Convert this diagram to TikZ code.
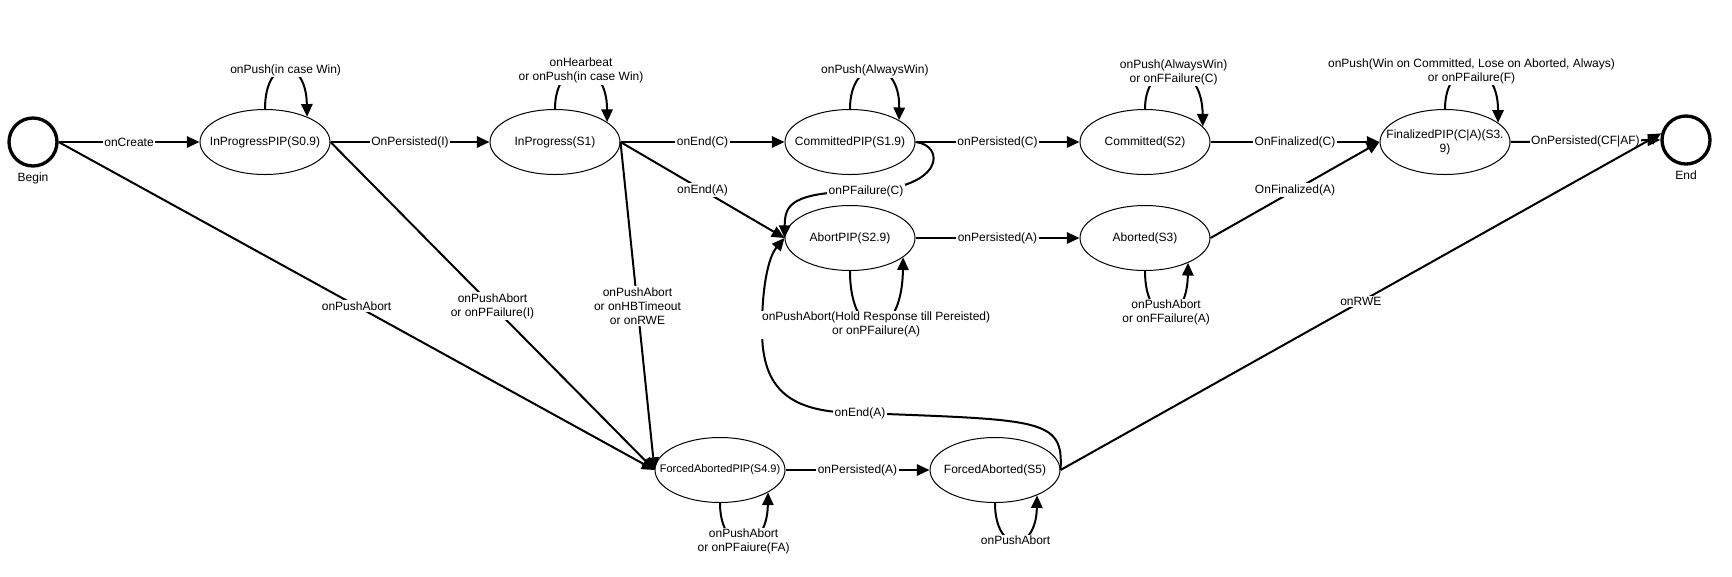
\documentclass[tikz,border=0pt]{standalone}
\usepackage{fontspec}
\setmainfont{Liberation Sans}
\usetikzlibrary{arrows.meta,positioning,shapes.geometric}

\begin{document}
\begin{tikzpicture}[x=0.75pt, y=-0.75pt, font=\fontsize{9}{10.5}\selectfont,
  state/.style={draw, ellipse, line width=0.75pt, minimum width=97.5pt, minimum height=48.75pt, inner xsep=-14pt, inner ysep=0pt, align=center},
  term/.style={draw, circle, line width=2.5pt, minimum size=36pt},
  trans/.style={-{Triangle[length=9.5pt,width=8.5pt]}, line width=1.5pt},
  lbl/.style={fill=white, inner sep=1pt, align=center}]
\useasboundingbox (0,0) rectangle (1732,576);
% start and end
\node[term] (begin) at (33,142) {};
\node[below=0pt of begin] (beginLbl) {Begin};
\node[term] (endSt) at (1686,140) {};
\node[below=0pt of endSt] (endLbl) {End};
% states, top row
\node[state] (ipPip) at (265,142) {InProgressPIP(S0.9)};
\node[state] (inProg) at (555,142) {InProgress(S1)};
\node[state] (comPip) at (850,142) {CommittedPIP(S1.9)};
\node[state] (committed) at (1145,142) {Committed(S2)};
\node[state] (finPip) at (1445,142) {FinalizedPIP(C|A)(S3.\\9)};
% middle row
\node[state] (abPip) at (850,238) {AbortPIP(S2.9)};
\node[state] (aborted) at (1145,238) {Aborted(S3)};
% bottom row
\node[state, font=\fontsize{8.25}{10}\selectfont] (faPip) at (720,470) {ForcedAbortedPIP(S4.9)};
\node[state] (fAborted) at (995,470) {ForcedAborted(S5)};

% main flow
\draw[trans] (begin.east) -- node[lbl] {onCreate} (ipPip.west);
\draw[trans] (ipPip.east) -- node[lbl] {OnPersisted(I)} (inProg.west);
\draw[trans] (inProg.east) -- node[lbl] {onEnd(C)} (comPip.west);
\draw[trans] (comPip.east) -- node[lbl] {onPersisted(C)} (committed.west);
\draw[trans] (committed.east) -- node[lbl] {OnFinalized(C)} (finPip.west);
\draw[trans] (finPip.east) -- node[lbl] {OnPersisted(CF|AF)} (endSt.west);
\draw[trans] (inProg.east) -- node[lbl] {onEnd(A)} (abPip.west);
\draw[trans] (abPip.east) -- node[lbl] {onPersisted(A)} (aborted.west);
\draw[trans] (aborted.east) -- node[lbl] {OnFinalized(A)} (finPip.west);
\draw[trans] (comPip.east) .. controls (945,145) and (945,188) .. (866,191) node[lbl] {onPFailure(C)}
  .. controls (790,192) and (785,205) .. (abPip.west);

% forced abort
\draw[trans] (begin.east) -- node[lbl] {onPushAbort} (faPip.west);
\draw[trans] (ipPip.east) -- node[lbl] {onPushAbort\\or onPFailure(I)} (faPip.west);
\draw[trans] (inProg.east) -- node[lbl] {onPushAbort\\or onHBTimeout\\or onRWE} (faPip.west);
\draw[trans] (faPip.east) -- node[lbl] {onPersisted(A)} (fAborted.west);
\draw[trans] (fAborted.east) -- node[lbl] {onRWE} (endSt.165);
\draw[trans] (fAborted.east) .. controls (1064,418) and (1040,420) .. (860,413) node[lbl] {onEnd(A)}
  .. controls (790,413) and (762,390) .. (762,330) .. controls (762,280) and (770,255) .. (abPip.west);

% self loops
\draw[trans] (ipPip.north) .. controls (265,56) and (306,56) .. (ipPip.31) node[lbl, pos=0.5] {onPush(in case Win)};
\draw[trans] (inProg.north) .. controls (555,56) and (607,56) .. (inProg.21) node[lbl, pos=0.5] {onHearbeat\\or onPush(in case Win)};
\draw[trans] (comPip.north) .. controls (850,56) and (900,56) .. (comPip.24) node[lbl, pos=0.5] {onPush(AlwaysWin)};
\draw[trans] (committed.north) .. controls (1145,57) and (1202,57) .. (committed.15) node[lbl, pos=0.5] {onPush(AlwaysWin)\\or onFFailure(C)};
\draw[trans] (finPip.north) .. controls (1445,56) and (1498,56) .. (finPip.20) node[lbl, pos=0.5] {onPush(Win on Committed, Lose on Aborted, Always)\\or onPFailure(F)};
\draw[trans] (abPip.south) .. controls (850,345) and (902,345) .. (abPip.-20) node[lbl, pos=0.5] {onPushAbort(Hold Response till Pereisted)\\or onPFailure(A)};
\draw[trans] (aborted.south) .. controls (1145,328) and (1187,328) .. (aborted.-30) node[lbl, pos=0.5] {onPushAbort\\or onFFailure(A)};
\draw[trans] (faPip.south) .. controls (720,556) and (767,556) .. (faPip.-25) node[lbl, pos=0.5] {onPushAbort\\or onPFaiure(FA)};
\draw[trans] (fAborted.south) .. controls (995,554) and (1036,554) .. (fAborted.-31) node[lbl, pos=0.5] {onPushAbort};
\end{tikzpicture}
\end{document}
